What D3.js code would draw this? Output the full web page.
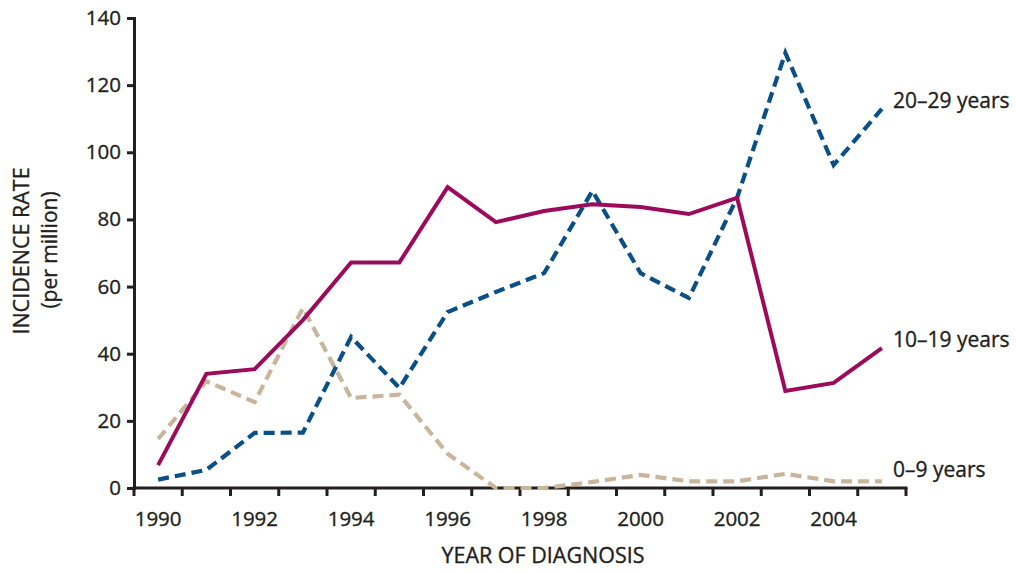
<!DOCTYPE html>
<html>
<head>
<meta charset="utf-8">
<script src="https://cdn.jsdelivr.net/npm/d3@7/dist/d3.min.js"></script>
<style>
  html, body { margin: 0; padding: 0; background: #fff; }
  svg { display: block; font-family: "Open Sans", "Liberation Sans", sans-serif; }
  text { stroke: #231f20; stroke-width: 0.35px; }
</style>
</head>
<body>
<svg id="chart" width="1016" height="572"></svg>
<script>
const years = [1990,1991,1992,1993,1994,1995,1996,1997,1998,1999,2000,2001,2002,2003,2004,2005];
const xTickLabels = [1990,1992,1994,1996,1998,2000,2002,2004];
const yTicks = [0,20,40,60,80,100,120,140];
const seriesNames = ["20–29 years","10–19 years","0–9 years"];
const age20_29 = [2.5,5.4,16.4,16.5,45,29.8,52.4,58.4,64,88.5,64,56.6,86.5,129.6,96.2,112.9];
const age10_19 = [6.8,34,35.4,50,67.2,67.2,89.6,79.2,82.5,84.5,83.7,81.6,86.4,28.9,31.3,41.7];
const age0_9 = [14.6,31.8,25.6,53.6,26.8,27.8,10.2,0,0,1.8,3.9,2,2,4.2,2,2];

(function () {
const svg = d3.select("#chart");
const mLeft = 134, mRight = 906, mTop = 18, mBottom = 488;

const x = d3.scaleBand().domain(years).range([mLeft, mRight]).padding(0);
const y = d3.scaleLinear().domain([0, 140]).range([mBottom, mTop]);
const cx = d => x(d) + x.bandwidth() / 2;

const textColor = "#231f20";

// Y axis
const yAxis = svg.append("g").attr("transform", `translate(${mLeft},0)`)
  .call(d3.axisLeft(y).tickValues(yTicks).tickSize(7).tickPadding(6));
yAxis.select(".domain").attr("stroke", textColor).attr("stroke-width", 3);
yAxis.selectAll(".tick line").attr("stroke", textColor).attr("stroke-width", 3);
yAxis.selectAll(".tick text").attr("fill", textColor).style("font-size", "20.5px")
  .style("font-family", "'Open Sans', sans-serif");

// X axis: ticks at band edges
const edges = years.map(d => x(d)).concat([mRight]);
const xg = svg.append("g");
xg.append("line").attr("x1", mLeft - 1.5).attr("x2", mRight + 1.5)
  .attr("y1", mBottom).attr("y2", mBottom).attr("stroke", textColor).attr("stroke-width", 3);
xg.selectAll("line.tk").data(edges).enter().append("line").attr("class", "tk")
  .attr("x1", d => d).attr("x2", d => d).attr("y1", mBottom).attr("y2", mBottom + 8)
  .attr("stroke", textColor).attr("stroke-width", 3);
xg.selectAll("text").data(xTickLabels).enter().append("text")
  .attr("x", d => cx(d)).attr("y", 526)
  .attr("text-anchor", "middle").attr("fill", textColor)
  .style("font-size", "20.5px").text(d => d);

// Axis titles
svg.append("text").attr("x", 543).attr("y", 563).attr("text-anchor", "middle")
  .attr("fill", textColor).style("font-size", "21.5px").text("YEAR OF DIAGNOSIS");
svg.append("text").attr("transform", "translate(29,251) rotate(-90)").attr("text-anchor", "middle")
  .attr("fill", textColor).style("font-size", "21.5px").text("INCIDENCE RATE");
svg.append("text").attr("transform", "translate(57,250) rotate(-90)").attr("text-anchor", "middle")
  .attr("fill", textColor).style("font-size", "21px").text("(per million)");

// Lines
const line = d3.line().x((d, i) => cx(years[i])).y(d => y(d)).curve(d3.curveLinear);
const series = [
  {name: seriesNames[2], values: age0_9, color: "#c9b59b", dash: "11,6", width: 4.2},
  {name: seriesNames[0], values: age20_29, color: "#0a4f86", dash: "11,6", width: 4.2},
  {name: seriesNames[1], values: age10_19, color: "#9c0a5c", dash: null, width: 4}
];
series.forEach(s => {
  const p = svg.append("path").datum(s.values)
    .attr("d", line).attr("fill", "none")
    .attr("stroke", s.color).attr("stroke-width", s.width)
    .attr("stroke-linejoin", "miter");
  if (s.dash) p.attr("stroke-dasharray", s.dash);
});

// Line labels
const labelY = {"20–29 years": 108, "10–19 years": 347, "0–9 years": 477};
seriesNames.forEach(n => {
  svg.append("text").attr("x", 893).attr("y", labelY[n])
    .attr("fill", textColor).style("font-size", "21px").text(n);
});
})();
</script>
</body>
</html>
